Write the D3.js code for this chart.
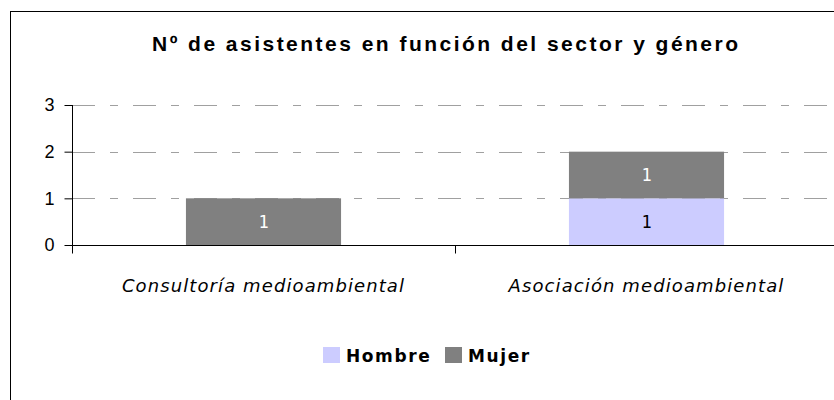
<!DOCTYPE html>
<html>
<head>
<meta charset="utf-8">
<script src="https://cdn.jsdelivr.net/npm/d3@7"></script>
<style>
  body { margin: 0; background: #fff; }
  svg text { font-family: "Liberation Sans", Arial, sans-serif; }
</style>
</head>
<body>
<div id="main"></div>
<script>
var ctx = {
    w: 834,
    h: 400,
};

// data
var sectores = ["Consultoría medioambiental", "Asociación medioambiental"];
var series = ["Hombre", "Mujer"];
var hombre = [0, 1];
var mujer = [1, 1];
var yTicks = [0, 1, 2, 3];
var colores = ["#ccccff", "#808080"];

var svg = d3.select("#main").append("svg")
    .attr("width", ctx.w)
    .attr("height", ctx.h);

// chart frame (goes past the right/bottom edge)
svg.append("rect")
    .attr("x", 10.5)
    .attr("y", 11.5)
    .attr("width", 870)
    .attr("height", 420)
    .attr("fill", "#fff")
    .attr("stroke", "#000")
    .attr("stroke-width", 1);

// title, centred on the (wider than the window) chart frame
svg.append("text")
    .attr("x", 152)
    .attr("y", 51)
    .attr("textLength", 586)
    .attr("lengthAdjust", "spacing")
    .style("font-size", "21px")
    .style("font-weight", "bold")
    .text("Nº de asistentes en función del sector y género");

var x = d3.scaleBand()
    .domain(sectores)
    .range([72, 838])
    .paddingInner(0.595)
    .paddingOuter(0.2975);

var xCat = d3.scaleBand()
    .domain(sectores)
    .range([72, 838]);

var y = d3.scaleLinear()
    .domain([0, 3])
    .range([245, 105]);

// gridlines
svg.append("g")
    .selectAll("line")
    .data(yTicks.filter((d) => d > 0))
    .enter()
    .append("line")
    .attr("x1", 72)
    .attr("x2", 838)
    .attr("y1", (d) => Math.round(y(d)) + 0.5)
    .attr("y2", (d) => Math.round(y(d)) + 0.5)
    .attr("stroke", "#a0a0a0")
    .attr("stroke-width", 1)
    .attr("stroke-dasharray", "23,15,8,15");

// stacked bars
var tabla = sectores.map((s, i) => ({ sector: s, Hombre: hombre[i], Mujer: mujer[i] }));
var stack = d3.stack().keys(series)(tabla);

var capas = svg.append("g")
    .selectAll("g")
    .data(stack)
    .enter()
    .append("g")
    .attr("fill", (d, i) => colores[i]);

capas.selectAll("rect")
    .data((d) => d)
    .enter()
    .append("rect")
    .attr("x", (d) => x(d.data.sector))
    .attr("width", x.bandwidth())
    .attr("y", (d) => y(d[1]))
    .attr("height", (d) => y(d[0]) - y(d[1]));

// value labels
stack.forEach(function (capa, i) {
    svg.append("g")
        .selectAll("text")
        .data(capa.filter((d) => d[1] - d[0] > 0))
        .enter()
        .append("text")
        .attr("x", (d) => x(d.data.sector) + x.bandwidth() / 2)
        .attr("y", (d) => (y(d[0]) + y(d[1])) / 2 + 6)
        .attr("text-anchor", "middle")
        .style("font-family", "'DejaVu Sans Mono', monospace")
        .style("font-size", "17px")
        .attr("fill", i == 1 ? "#fff" : "#000")
        .text((d) => d[1] - d[0]);
});

// y axis
var yAxis = svg.append("g")
    .attr("transform", "translate(72.5,0)")
    .call(d3.axisLeft(y).tickValues(yTicks).tickFormat(d3.format("d")).tickSize(8).tickPadding(10));
yAxis.select(".domain").attr("d", "M0," + y(3) + "V" + (y(0) + 0.5));
yAxis.selectAll("text")
    .style("font-size", "18px")
    .style("font-family", "'Liberation Sans', Arial, sans-serif")
    .attr("fill", "#000");
yAxis.selectAll("line").attr("stroke", "#000");

// x axis: line plus category boundary ticks
var xg = svg.append("g").attr("transform", "translate(0," + (y(0) + 0.5) + ")");
xg.append("line")
    .attr("x1", 72).attr("x2", 838)
    .attr("stroke", "#000");
xg.selectAll(".sep")
    .data([72, xCat(sectores[1])])
    .enter()
    .append("line")
    .attr("x1", (d) => Math.round(d) + 0.5)
    .attr("x2", (d) => Math.round(d) + 0.5)
    .attr("y1", 0)
    .attr("y2", 8)
    .attr("stroke", "#000");
xg.selectAll("text")
    .data(sectores)
    .enter()
    .append("text")
    .attr("x", (d) => xCat(d) + xCat.bandwidth() / 2)
    .attr("y", 46)
    .attr("text-anchor", "middle")
    .style("font-family", "'DejaVu Sans', Verdana, sans-serif")
    .style("font-size", "18px")
    .style("font-style", "italic")
    .style("letter-spacing", "1.1px")
    .text((d) => d);

// legend
var leg = svg.append("g").attr("transform", "translate(323,347)");
var items = [
    { nombre: series[0], dx: 0 },
    { nombre: series[1], dx: 122 },
];
items.forEach(function (it, i) {
    leg.append("rect")
        .attr("x", it.dx)
        .attr("y", 0)
        .attr("width", 17)
        .attr("height", 16)
        .attr("fill", colores[i]);
    leg.append("text")
        .attr("x", it.dx + 23)
        .attr("y", 15)
        .style("font-family", "'DejaVu Sans', Verdana, sans-serif")
        .style("font-size", "17px")
        .style("font-weight", "bold")
        .style("letter-spacing", "1.6px")
        .text(it.nombre);
});
</script>
</body>
</html>
